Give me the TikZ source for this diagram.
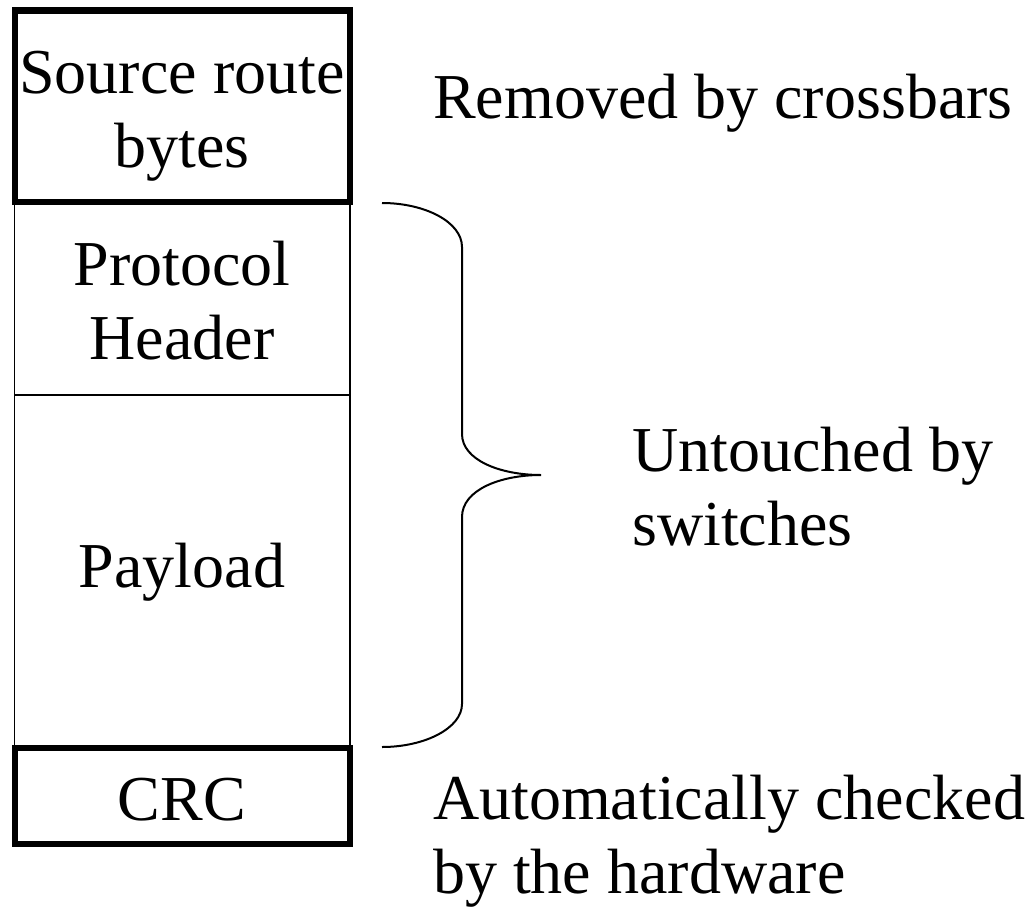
\documentclass[tikz,border=0pt]{standalone}
\usepackage{fontspec}
\setmainfont{Liberation Serif}
\begin{document}
\begin{tikzpicture}[x=1pt,y=1pt,
  every node/.style={font=\fontsize{64}{74}\selectfont, inner sep=0pt},
  note/.style={anchor=base west, align=left},
  thinframe/.style={line width=1.8pt},
  thickframe/.style={line width=6.5pt},
  bracestyle/.style={line width=2pt}]
\useasboundingbox (0,0) rectangle (1031,-908);

% packet fields, top to bottom
\draw[thinframe] (14.5,-202) rectangle (350,-395);
\draw[thinframe] (14.5,-395) rectangle (350,-746);
\node[align=center] (hdr) at (182,-301) {Protocol\\Header};
\node[align=center] (pay) at (182,-572) {Payload};
\draw[thickframe] (15,-10.5) rectangle (350,-202);
\draw[thickframe] (15,-748) rectangle (350,-844);
\node[align=center] (src) at (182,-116) {Source route\\bytes};
\node (crc) at (182,-800) {CRC};

% annotations (anchored on the baseline of the last line)
\node[note] (rem) at (433,-118) {Removed by crossbars};
\node[note] (unt) at (632,-545) {Untouched by\\switches};
\node[note] (aut) at (433,-893) {Automatically checked\\by the hardware};

% brace over header and payload
\draw[bracestyle] (382,-203) .. controls (425,-203) and (462,-222) .. (462,-247)
  -- (462,-434) .. controls (462,-460) and (500,-475) .. (541,-475)
  .. controls (500,-475) and (462,-490) .. (462,-517)
  -- (462,-704) .. controls (462,-728) and (425,-747) .. (382,-747);
\end{tikzpicture}
\end{document}
